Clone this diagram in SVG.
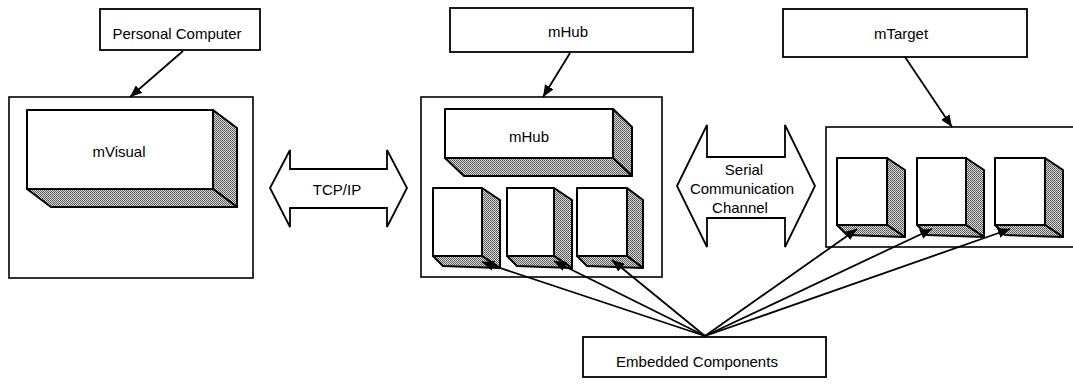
<svg xmlns="http://www.w3.org/2000/svg" width="1073" height="389" viewBox="0 0 1073 389">
  <defs>
    <style>
      .frame { fill: #fff; stroke: #000; stroke-width: 1.6; }
      .label { fill: #fff; stroke: #000; stroke-width: 1.8; }
      .face { fill: #fff; stroke: #000; stroke-width: 2; stroke-linejoin: round; }
      .shade { fill: url(#dither); stroke: #000; stroke-width: 2; stroke-linejoin: round; }
      .block { fill: #fff; stroke: #000; stroke-width: 1.8; stroke-linejoin: miter; }
      .txt { font-family: "Liberation Sans", Arial, sans-serif; font-size: 15px; fill: #000; text-anchor: middle; }
      .link { stroke: #000; stroke-width: 1.8; fill: none; marker-end: url(#head); }
    </style>
    <!-- halftone grey used on the extruded sides of the 3D boxes -->
    <pattern id="dither" width="2" height="2" patternUnits="userSpaceOnUse">
      <rect width="2" height="2" fill="#d6d6d6"/>
      <rect width="1" height="1" fill="#555"/>
      <rect x="1" y="1" width="1" height="1" fill="#6a6a6a"/>
    </pattern>
    <marker id="head" viewBox="0 0 12 10" refX="12" refY="5" markerWidth="12" markerHeight="10" markerUnits="userSpaceOnUse" orient="auto">
      <path d="M0,0 L12,5 L0,10 Z" fill="#000"/>
    </marker>
  </defs>

  <!-- Personal Computer / mVisual -->
  <g id="personal-computer">
    <rect class="label" x="100" y="9" width="160" height="41"/>
    <text class="txt" x="177" y="39">Personal Computer</text>
  </g>
  <g id="pc-frame">
    <rect class="frame" x="9" y="97" width="244" height="181"/>
  </g>
  <g id="mvisual">
    <polygon class="shade" points="213,110 237,128 237,207 213,189"/>
    <polygon class="shade" points="27,189 213,189 237,207 51,207"/>
    <rect class="face" x="27" y="110" width="186" height="79"/>
    <text class="txt" x="119" y="157">mVisual</text>
  </g>

  <!-- TCP/IP double arrow -->
  <g id="tcpip">
    <polygon class="block" points="270,188 290,150 290,169 387,169 387,150 407,188 387,227 387,208 290,208 290,227"/>
    <text class="txt" x="337" y="195">TCP/IP</text>
  </g>

  <!-- mHub -->
  <g id="mhub-label">
    <rect class="label" x="450" y="8" width="243" height="44"/>
    <text class="txt" x="568" y="37">mHub</text>
  </g>
  <g id="mhub-frame">
    <rect class="frame" x="421" y="97" width="241" height="180"/>
  </g>
  <g id="mhub">
    <polygon class="shade" points="613,109 632,127 632,176 613,158"/>
    <polygon class="shade" points="445,158 613,158 632,176 464,176"/>
    <rect class="face" x="445" y="109" width="168" height="49"/>
    <text class="txt" x="529" y="142">mHub</text>
  </g>
  <g id="hub-comp-1">
    <polygon class="shade" points="482,188 500,200 500,268 482,256"/>
    <polygon class="shade" points="433,256 482,256 500,268 443,266"/>
    <rect class="face" x="433" y="188" width="49" height="68"/>
  </g>
  <g id="hub-comp-2">
    <polygon class="shade" points="554,188 572,200 572,268 554,256"/>
    <polygon class="shade" points="507,256 554,256 572,268 517,266"/>
    <rect class="face" x="507" y="188" width="47" height="68"/>
  </g>
  <g id="hub-comp-3">
    <polygon class="shade" points="627,188 643,200 643,268 627,256"/>
    <polygon class="shade" points="577,256 627,256 643,268 587,266"/>
    <rect class="face" x="577" y="188" width="50" height="68"/>
  </g>

  <!-- Serial Communication Channel double arrow -->
  <g id="serial">
    <polygon class="block" points="677,186 707,125 707,157 785,157 785,125 815,186 785,247 785,218 707,218 707,247"/>
    <text class="txt" x="744" y="175">Serial</text>
    <text class="txt" x="742" y="194">Communication</text>
    <text class="txt" x="740" y="213">Channel</text>
  </g>

  <!-- mTarget -->
  <g id="mtarget-label">
    <rect class="label" x="783" y="9" width="244" height="48"/>
    <text class="txt" x="901" y="39">mTarget</text>
  </g>
  <g id="mtarget-frame">
    <rect class="frame" x="826" y="127" width="260" height="120"/>
  </g>
  <g id="target-comp-1">
    <polygon class="shade" points="887,158 905,170 905,237 887,225"/>
    <polygon class="shade" points="837,225 887,225 905,237 847,235"/>
    <rect class="face" x="837" y="158" width="50" height="67"/>
  </g>
  <g id="target-comp-2">
    <polygon class="shade" points="966,158 984,170 984,237 966,225"/>
    <polygon class="shade" points="917,225 966,225 984,237 927,235"/>
    <rect class="face" x="917" y="158" width="49" height="67"/>
  </g>
  <g id="target-comp-3">
    <polygon class="shade" points="1045,158 1063,170 1063,237 1045,225"/>
    <polygon class="shade" points="995,225 1045,225 1063,237 1005,235"/>
    <rect class="face" x="995" y="158" width="50" height="67"/>
  </g>

  <!-- Embedded Components -->
  <g id="embedded">
    <rect class="label" x="583" y="337" width="243" height="40"/>
    <text class="txt" x="697" y="367">Embedded Components</text>
  </g>

  <!-- connectors -->
  <g id="connectors">
    <line class="link" x1="183" y1="51" x2="130" y2="97"/>
    <line class="link" x1="570" y1="53" x2="543" y2="97"/>
    <line class="link" x1="905" y1="57" x2="952" y2="127"/>
    <line class="link" x1="705" y1="336" x2="482" y2="262"/>
    <line class="link" x1="705" y1="336" x2="554" y2="261"/>
    <line class="link" x1="705" y1="336" x2="612" y2="260"/>
    <line class="link" x1="705" y1="336" x2="857" y2="229"/>
    <line class="link" x1="705" y1="336" x2="932" y2="229"/>
    <line class="link" x1="705" y1="336" x2="1010" y2="229"/>
  </g>
</svg>
